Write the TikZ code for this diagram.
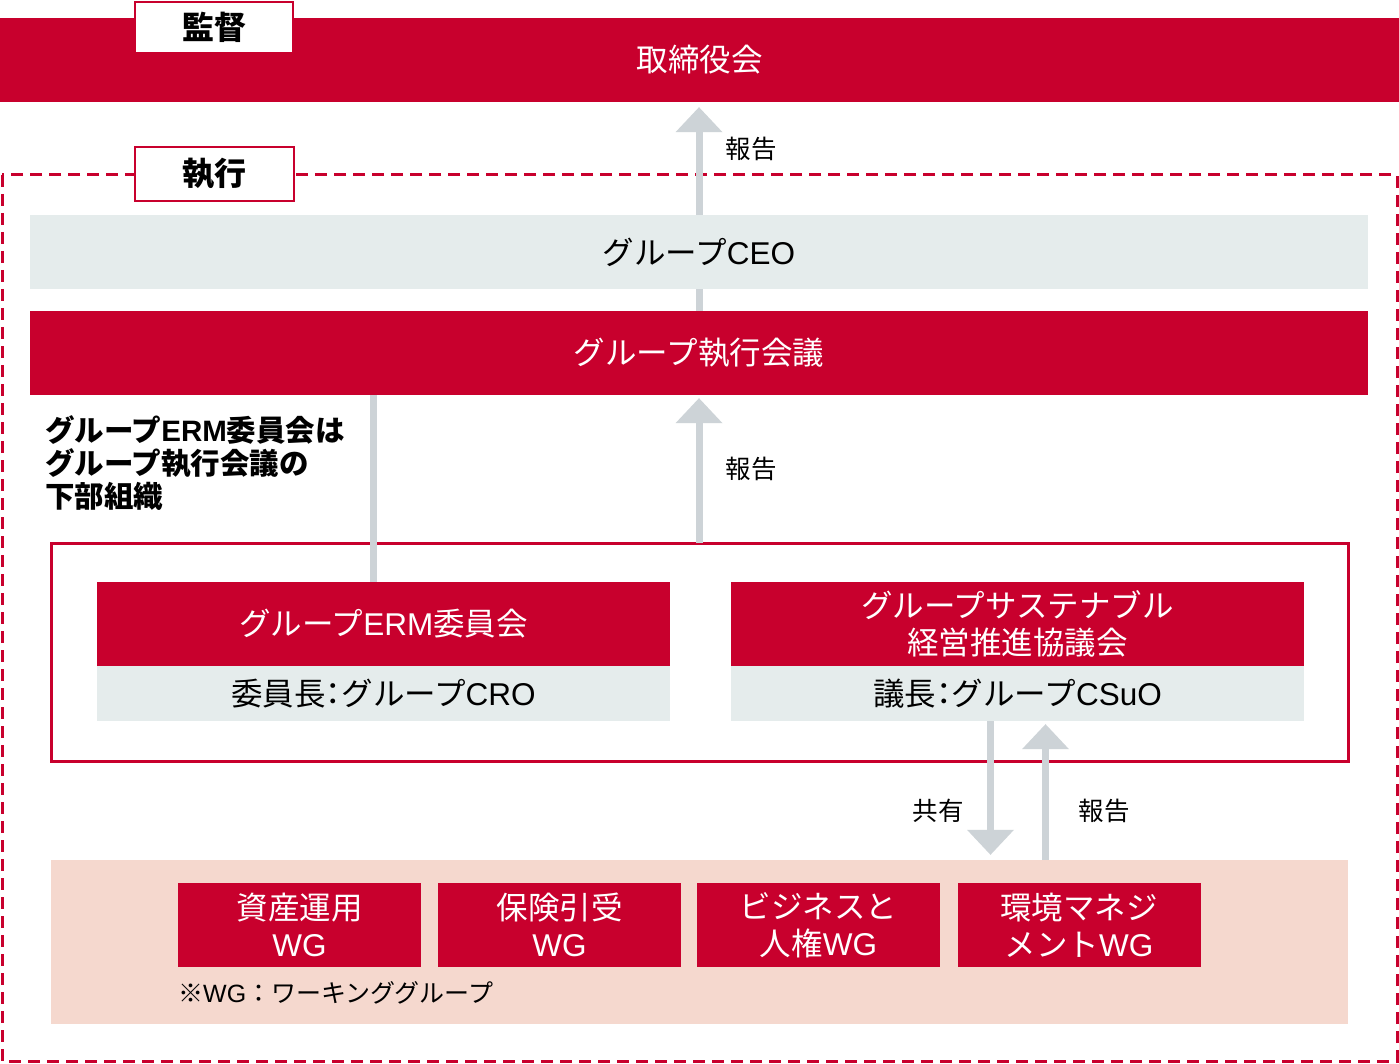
\documentclass[tikz,border=0pt]{standalone}
\usepackage{fontspec}
\setmainfont{Noto Sans CJK JP}
\newfontfamily\latin{Liberation Sans}
\newcommand{\pcolon}{{\addfontfeature{RawFeature=+palt}：}}
\usetikzlibrary{arrows.meta}
\definecolor{brand}{HTML}{C8002D}
\definecolor{boxgray}{HTML}{E5ECEC}
\definecolor{arrowgray}{HTML}{CDD3D7}
\definecolor{pinkbg}{HTML}{F5D8CE}
\tikzset{
  redbox/.style={fill=brand, text=white, inner sep=0pt, align=center, font=\fontsize{31.5}{37}\selectfont},
  graybox/.style={fill=boxgray, text=black, inner sep=0pt, align=center, font=\fontsize{31.5}{37}\selectfont},
  tagbox/.style={fill=white, draw=brand, line width=2.5pt, inner sep=0pt, font=\bfseries\fontsize{32}{36}\selectfont},
  frame/.style={draw=brand, line width=3pt, inner sep=0pt},
  garrow/.style={draw=arrowgray, line width=7pt, -{Triangle[width=47pt,length=25pt,line width=0pt]}},
  gline/.style={draw=arrowgray, line width=7pt},
  lbl/.style={inner sep=0pt, font=\fontsize{25.5}{28}\selectfont},
}
\begin{document}
\begin{tikzpicture}[x=1pt,y=-1pt]
\useasboundingbox (0,0) rectangle (1399,1064);
\fill[white] (0,0) rectangle (1399,1064);

% supervision
\node[redbox, minimum width=1399pt, minimum height=84pt] (board) at (699.5,60) {取締役会};
\node[tagbox, minimum width=158pt, minimum height=51pt] (kantoku) at (214,27.5) {監督};

% execution frame
\draw[brand, line width=3pt, dash pattern=on 12pt off 7pt] (2,175) rectangle (1397,1061);
\node[tagbox, minimum width=159pt, minimum height=54pt] (shikko) at (214.5,174) {執行};

\node[graybox, minimum width=1338pt, minimum height=74pt] (ceo) at (699,252) {グループ{\latin CEO}};
\node[redbox, minimum width=1338pt, minimum height=84pt] (exec) at (699,353) {グループ執行会議};

\node[anchor=north west, align=left, inner sep=0pt, font=\bfseries\fontsize{29.5}{33}\selectfont] (note1) at (45,415)
  {グループ{\latin ERM}委員会は\\グループ執行会議の\\下部組織};

\node[frame, minimum width=1297pt, minimum height=218pt] (outer) at (699.5,652) {};

\node[redbox, minimum width=573pt, minimum height=84pt] (ermhead) at (383.5,624) {グループ{\latin ERM}委員会};
\node[graybox, minimum width=573pt, minimum height=55pt] (ermchair) at (383.5,693.5) {委員長\pcolon グループ{\latin CRO}};

\node[redbox, minimum width=573pt, minimum height=84pt] (sushead) at (1017.5,624) {グループサステナブル\\経営推進協議会};
\node[graybox, minimum width=573pt, minimum height=55pt] (suschair) at (1017.5,693.5) {議長\pcolon グループ{\latin CSuO}};

\node[fill=pinkbg, inner sep=0pt, minimum width=1297pt, minimum height=164pt] (wgarea) at (699.5,942) {};
\node[redbox, minimum width=243pt, minimum height=84pt] (wg1) at (299.5,925) {資産運用\\{\latin WG}};
\node[redbox, minimum width=243pt, minimum height=84pt] (wg2) at (559.5,925) {保険引受\\{\latin WG}};
\node[redbox, minimum width=243pt, minimum height=84pt] (wg3) at (818.5,925) {ビジネスと\\人権{\latin WG}};
\node[redbox, minimum width=243pt, minimum height=84pt] (wg4) at (1079,925) {環境マネジ\\メント{\latin WG}};
\node[lbl, anchor=west, font=\fontsize{25}{28}\selectfont] (wgnote) at (178,993) {※{\latin WG}：ワーキンググループ};

% connectors
\coordinate (a1) at (699,215);
\draw[garrow, shorten >=5pt] (a1) -- (board.south -| a1);
\node[lbl] (r1) at (751,149) {報告};
\draw[gline] (ceo.south -| a1) -- (exec.north -| a1);

\coordinate (ermtop) at (373.5,582);
\draw[gline] (exec.south -| ermtop) -- (ermtop);

\coordinate (a2) at (699,543);
\draw[garrow, shorten >=3pt] (a2) -- (exec.south -| a2);
\node[lbl] (r2) at (751,469) {報告};

\coordinate (a3) at (990.5,721);
\draw[garrow, shorten >=5pt] (a3) -- (wgarea.north -| a3);
\node[lbl] (s3) at (938,811) {共有};

\coordinate (a4) at (1045.5,860);
\draw[garrow, shorten >=3pt] (a4) -- (suschair.south -| a4);
\node[lbl] (r4) at (1104,811) {報告};
\end{tikzpicture}
\end{document}
